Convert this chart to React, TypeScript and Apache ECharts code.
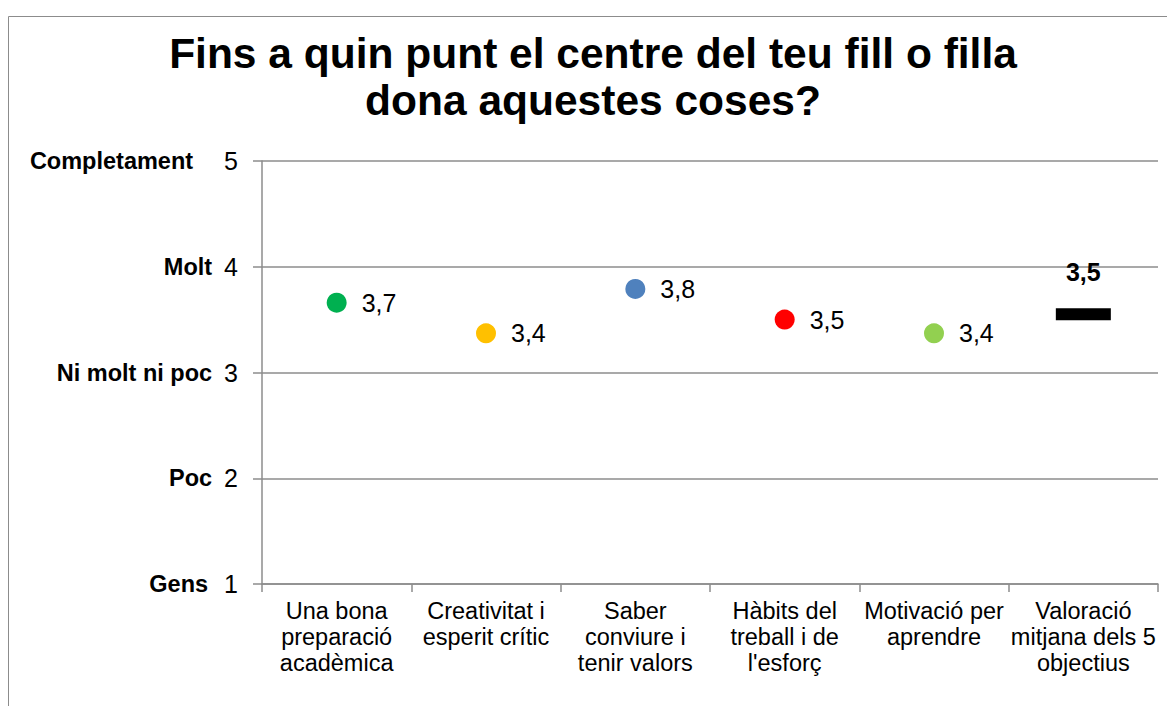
import React, { useEffect, useRef } from "react";
import * as echarts from "echarts";

const categories = [
  "Una bona\npreparació\nacadèmica",
  "Creativitat i\nesperit crític",
  "Saber\nconviure i\ntenir valors",
  "Hàbits del\ntreball i de\nl'esforç",
  "Motivació per\naprendre",
  "Valoració\nmitjana dels 5\nobjectius",
];
const itemValues = [3.66, 3.37, 3.79, 3.5, 3.37];
const itemColors = ["#00b050", "#ffc000", "#4f81bd", "#ff0000", "#92d050"];
const meanValue = 3.55;
const levelNames = ["Gens", "Poc", "Ni molt ni poc", "Molt", "Completament"];
const titleText = "Fins a quin punt el centre del teu fill o filla\ndona aquestes coses?";

const fmt = (v: number) => v.toFixed(1).replace(".", ",");

export default function App() {
  const ref = useRef<HTMLDivElement>(null);
  useEffect(() => {
    if (!ref.current) return;
    const chart = echarts.init(ref.current, null, { renderer: "svg" });
    const font = "'Liberation Sans', Arial, sans-serif";
    chart.setOption({
      animation: false,
      textStyle: { fontFamily: font },
      graphic: [
        {
          type: "rect",
          shape: { x: 0.5, y: 8.5, width: 1300, height: 900 },
          style: { fill: "none", stroke: "#8c8c8c", lineWidth: 1 },
          silent: true,
        },
      ],
      title: {
        text: titleText,
        left: 580,
        textAlign: "center",
        top: 17,
        textStyle: {
          fontFamily: font,
          fontSize: 42.5,
          fontWeight: "bold",
          color: "#000",
          lineHeight: 47,
        },
      },
      grid: { left: 254, top: 153, right: 17, bottom: 122 },
      xAxis: {
        type: "category",
        data: categories,
        axisLine: { lineStyle: { color: "#8c8c8c", width: 1.5 } },
        axisTick: { show: true, length: 8, lineStyle: { color: "#8c8c8c", width: 1.5 } },
        axisLabel: {
          interval: 0,
          margin: 14,
          fontSize: 23.5,
          lineHeight: 26,
          color: "#000",
          fontFamily: font,
        },
      },
      yAxis: {
        type: "value",
        min: 1,
        max: 5,
        interval: 1,
        axisLine: { show: true, lineStyle: { color: "#8c8c8c", width: 1.5 } },
        axisTick: { show: true, length: 9, lineStyle: { color: "#8c8c8c", width: 1.5 } },
        splitLine: { show: true, lineStyle: { color: "#8c8c8c", width: 1.5 } },
        axisLabel: {
          margin: 24,
          fontFamily: font,
          formatter: (v: number) => {
            const name = levelNames[Math.round(v) - 1];
            const key = name === "Completament" ? "c" : name === "Gens" ? "g" : "b";
            return `{${key}|${name}}{n|${v}}`;
          },
          rich: {
            b: { fontSize: 23.5, fontWeight: "bold", color: "#000", fontFamily: font, padding: [0, 12, 0, 0] },
            c: { fontSize: 23.5, fontWeight: "bold", color: "#000", fontFamily: font, padding: [0, 31, 0, 0] },
            g: { fontSize: 23.5, fontWeight: "bold", color: "#000", fontFamily: font, padding: [0, 16, 0, 0] },
            n: { fontSize: 25, color: "#000", fontFamily: font },
          },
        },
      },
      series: [
        {
          type: "scatter",
          symbol: "circle",
          symbolSize: 20,
          data: itemValues.map((v, i) => ({
            value: [i, v],
            itemStyle: { color: itemColors[i], opacity: 1 },
          })),
          label: {
            show: true,
            position: "right",
            distance: 15,
            fontSize: 25,
            color: "#000",
            fontFamily: font,
            formatter: (p: any) => fmt(p.value[1]),
          },
        },
        {
          type: "scatter",
          symbol: "rect",
          symbolSize: [55, 12],
          data: [[5, meanValue]],
          itemStyle: { color: "#000", opacity: 1 },
          label: {
            show: true,
            position: "top",
            distance: 24,
            fontSize: 25,
            fontWeight: "bold",
            color: "#000",
            fontFamily: font,
            formatter: () => fmt(meanValue),
          },
        },
      ],
    });
    return () => chart.dispose();
  }, []);
  return <div ref={ref} style={{ width: 1167, height: 698 }} />;
}
